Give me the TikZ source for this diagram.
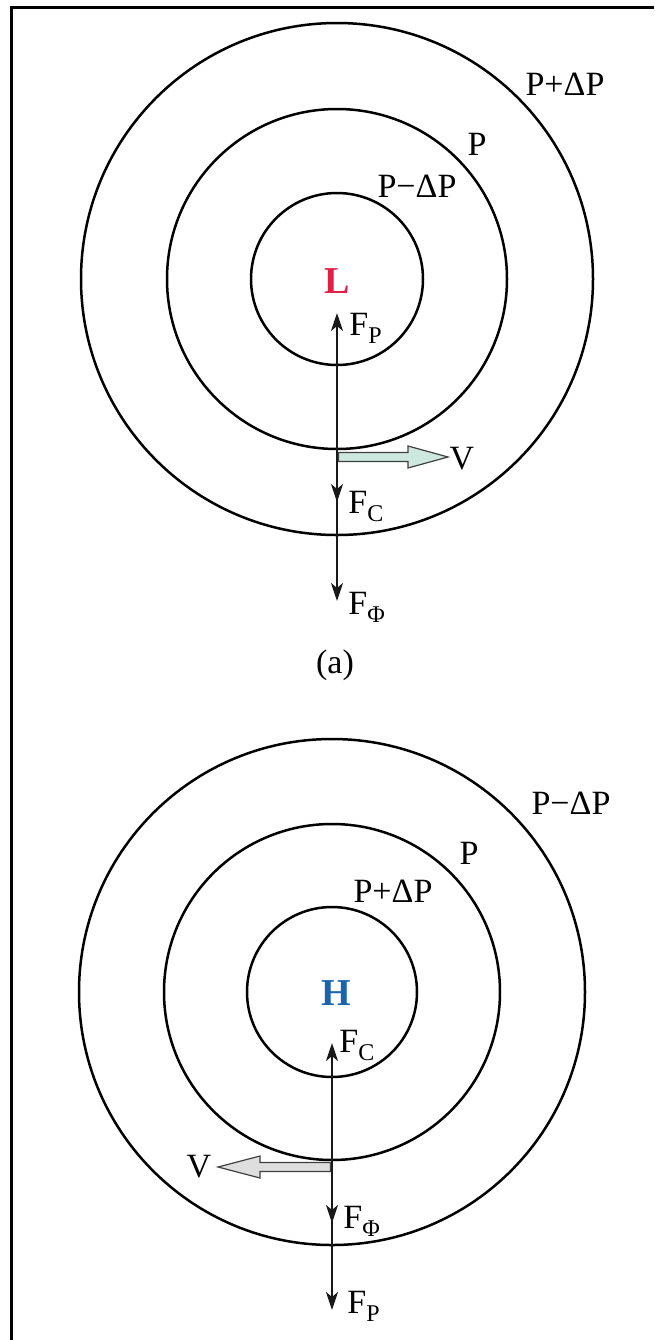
\documentclass[tikz,border=0pt]{standalone}
\usepackage{fontspec}
\setmainfont{Liberation Serif}
\usetikzlibrary{arrows.meta}
\definecolor{Lred}{RGB}{225,30,70}
\definecolor{Hblue}{RGB}{25,100,170}
\definecolor{vgreen}{RGB}{205,232,222}
\definecolor{vgray}{RGB}{222,222,222}
\newcommand\fsub[1]{\raisebox{-4pt}{\fontsize{12}{12}\selectfont #1}}
\begin{document}
\begin{tikzpicture}[x=0.5pt,y=-0.5pt,
  ring/.style={draw=black, line width=1.25pt},
  force/.style={draw=black!90, line width=1.2pt, -{Stealth[length=9pt,width=6pt,inset=2.5pt]}},
  lbl/.style={font=\fontsize{17}{20}\selectfont, inner sep=0pt},
  flbl/.style={lbl, anchor=base west},
  center/.style={font=\fontsize{19}{22}\selectfont\bfseries, inner sep=0pt},
  varrow/.style={draw=black!75, line width=0.6pt},
]
\useasboundingbox (0,0) rectangle (654,1340);
\draw[line width=1.5pt] (11,1340) -- (11,7) -- (654,7);

% ---------- (a) ----------
\coordinate (ca) at (337,279);
\draw[ring] (ca) circle[radius=86];
\draw[ring] (ca) circle[radius=170];
\draw[ring] (ca) circle[radius=256];
\node[center, text=Lred] (L) at (337,281) {L};

\coordinate (a0) at (337,457);
\coordinate (aFp) at (337,313);
\coordinate (aFc) at (337,502);
\coordinate (aFf) at (337,601);
\draw[force] (a0) -- (aFp);
\draw[force] (a0) -- (aFc);
\draw[force] (a0) -- (aFf);
\filldraw[varrow, fill=vgreen] (338.5,452.5) -- (408,452.5) -- (408,446) -- (448,457)
   -- (408,468) -- (408,461.5) -- (338.5,461.5) -- cycle;
\node[lbl] (aV) at (462,459) {V};

\node[flbl] (laFp) at (349,335) {F\fsub{P}};
\node[flbl] (laFc) at (348,513) {F\fsub{C}};
\node[flbl] (laFf) at (348,614) {F\fsub{Φ}};

\node[lbl] (ap1) at (565,84) {P+ΔP};
\node[lbl] (ap2) at (477,144) {P};
\node[lbl] (ap3) at (417,186) {P−ΔP};

\node[lbl] (capa) at (335,665) {(a)};

% ---------- (b) ----------
\coordinate (cb) at (332,992);
\draw[ring] (cb) circle[radius=85];
\draw[ring] (cb) circle[radius=168];
\draw[ring] (cb) circle[radius=253];
\node[center, text=Hblue] (H) at (336,993) {H};

\coordinate (b0) at (332,1167);
\coordinate (bFc) at (332,1043);
\coordinate (bFf) at (332,1223);
\coordinate (bFp) at (332,1310);
\draw[force] (b0) -- (bFc);
\draw[force] (b0) -- (bFf);
\draw[force] (b0) -- (bFp);
\filldraw[varrow, fill=vgray] (330.5,1162.5) -- (260,1162.5) -- (260,1156) -- (218,1167)
   -- (260,1178) -- (260,1171.5) -- (330.5,1171.5) -- cycle;
\node[lbl] (bV) at (199,1167) {V};

\node[flbl] (lbFc) at (339,1052) {F\fsub{C}};
\node[flbl] (lbFf) at (343,1228) {F\fsub{Φ}};
\node[flbl] (lbFp) at (347,1313) {F\fsub{P}};

\node[lbl] (bp1) at (571,803) {P−ΔP};
\node[lbl] (bp2) at (469,853) {P};
\node[lbl] (bp3) at (393,891) {P+ΔP};
\end{tikzpicture}
\end{document}
